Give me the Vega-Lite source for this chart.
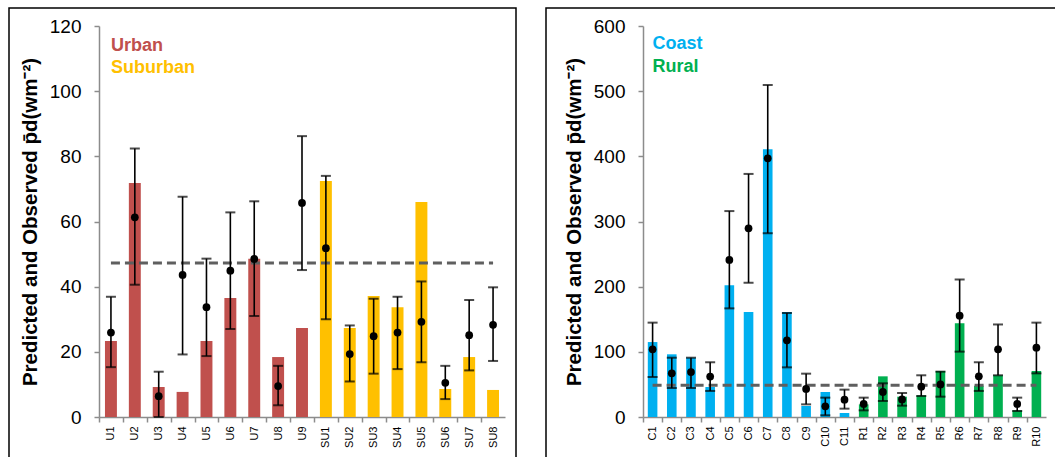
{
  "$schema": "https://vega.github.io/schema/vega-lite/v6.json",
  "padding": {"left": 8, "top": 7, "right": 0, "bottom": 0},
  "background": "white",
  "spacing": 28,
  "config": {
    "view": {"stroke": "#000000", "strokeWidth": 1.5},
    "font": "Liberation Sans",
    "axis": {"grid": false, "domainColor": "#8c8c8c", "domainWidth": 1.5, "tickColor": "#8c8c8c", "tickWidth": 1.5, "tickSize": 5, "labelColor": "#000000", "labelFont": "Liberation Sans", "titleFont": "Liberation Sans", "titleColor": "#000000"}
  },
  "resolve": {"scale": {"color": "independent", "x": "independent", "y": "independent"}},
  "hconcat": [
    {
      "width": 507,
      "height": 460,
      "data": {"values": [
        {"site": "U1", "group": "Urban", "predicted": 23.3, "observed": 25.9, "lo": 15.3, "hi": 36.9},
        {"site": "U2", "group": "Urban", "predicted": 71.8, "observed": 61.3, "lo": 40.6, "hi": 82.4},
        {"site": "U3", "group": "Urban", "predicted": 9.2, "observed": 6.4, "lo": 0, "hi": 13.9},
        {"site": "U4", "group": "Urban", "predicted": 7.7, "observed": 43.6, "lo": 19.2, "hi": 67.6},
        {"site": "U5", "group": "Urban", "predicted": 23.3, "observed": 33.7, "lo": 18.7, "hi": 48.6},
        {"site": "U6", "group": "Urban", "predicted": 36.5, "observed": 44.9, "lo": 27.0, "hi": 62.8},
        {"site": "U7", "group": "Urban", "predicted": 48.6, "observed": 48.5, "lo": 31.0, "hi": 66.2},
        {"site": "U8", "group": "Urban", "predicted": 18.4, "observed": 9.5, "lo": 3.6, "hi": 15.7},
        {"site": "U9", "group": "Urban", "predicted": 27.3, "observed": 65.7, "lo": 45.1, "hi": 86.2},
        {"site": "SU1", "group": "Suburban", "predicted": 72.4, "observed": 51.8, "lo": 30.0, "hi": 74.0},
        {"site": "SU2", "group": "Suburban", "predicted": 27.3, "observed": 19.3, "lo": 10.9, "hi": 28.1},
        {"site": "SU3", "group": "Suburban", "predicted": 37.1, "observed": 24.8, "lo": 13.3, "hi": 36.3},
        {"site": "SU4", "group": "Suburban", "predicted": 33.7, "observed": 25.9, "lo": 14.7, "hi": 36.9},
        {"site": "SU5", "group": "Suburban", "predicted": 66.0, "observed": 29.2, "lo": 16.8, "hi": 41.6},
        {"site": "SU6", "group": "Suburban", "predicted": 8.6, "observed": 10.5, "lo": 5.5, "hi": 15.7},
        {"site": "SU7", "group": "Suburban", "predicted": 18.4, "observed": 25.1, "lo": 14.3, "hi": 35.9},
        {"site": "SU8", "group": "Suburban", "predicted": 8.3, "observed": 28.3, "lo": 17.2, "hi": 39.8}
      ]},
      "layer": [
        {
          "mark": {"type": "bar"},
          "encoding": {
            "x": {"field": "site", "type": "nominal", "sort": null,
              "scale": {"domain": ["U1","U2","U3","U4","U5","U6","U7","U8","U9","SU1","SU2","SU3","SU4","SU5","SU6","SU7","SU8"], "range": [90, 496], "paddingInner": 0.5, "paddingOuter": 0.25},
              "axis": {"title": null, "offset": -51, "labelAngle": -90, "labelFontSize": 11, "labelPadding": 4, "tickOffset": -11.94, "labelOffset": 11.94}},
            "y": {"field": "predicted", "type": "quantitative",
              "scale": {"domain": [0, 120], "range": [409, 18], "nice": false},
              "axis": {"title": "Predicted and Observed p\u0304d(wm\u207b\u00b2)", "offset": -90, "values": [0,20,40,60,80,100,120], "labelFontSize": 19, "labelPadding": 13, "titleFontSize": 20.5, "titleFontWeight": "bold", "titlePadding": 9}},
            "color": {"field": "group", "type": "nominal", "scale": {"domain": ["Urban", "Suburban"], "range": ["#C0504D", "#FFC000"]}, "legend": null}
          }
        },
        {
          "data": {"values": [{"site": "U1", "mean": 47.3}, {"site": "SU8", "mean": 47.3}]},
          "mark": {"type": "line", "strokeDash": [9, 5], "strokeWidth": 3, "color": "#5f5f5f"},
          "encoding": {
            "x": {"field": "site", "type": "nominal", "sort": null},
            "y": {"field": "mean", "type": "quantitative"}
          }
        },
        {
          "mark": {"type": "rule", "color": "#000000", "strokeWidth": 1.6},
          "encoding": {
            "x": {"field": "site", "type": "nominal", "sort": null},
            "y": {"field": "lo", "type": "quantitative"},
            "y2": {"field": "hi"}
          }
        },
        {
          "mark": {"type": "tick", "color": "#000000", "size": 10, "thickness": 2},
          "encoding": {
            "x": {"field": "site", "type": "nominal", "sort": null},
            "y": {"field": "lo", "type": "quantitative"}
          }
        },
        {
          "mark": {"type": "tick", "color": "#000000", "size": 10, "thickness": 2},
          "encoding": {
            "x": {"field": "site", "type": "nominal", "sort": null},
            "y": {"field": "hi", "type": "quantitative"}
          }
        },
        {
          "mark": {"type": "point", "filled": true, "color": "#000000", "size": 60, "opacity": 1},
          "encoding": {
            "x": {"field": "site", "type": "nominal", "sort": null},
            "y": {"field": "observed", "type": "quantitative"}
          }
        },
        {
          "data": {"values": [{"site": "U1", "label": "Urban", "ypos": 113.9, "group": "Urban"}, {"site": "U1", "label": "Suburban", "ypos": 107.2, "group": "Suburban"}]},
          "mark": {"type": "text", "align": "left", "baseline": "middle", "fontSize": 18, "fontWeight": "bold", "font": "Liberation Sans"},
          "encoding": {
            "x": {"field": "site", "type": "nominal", "sort": null},
            "y": {"field": "ypos", "type": "quantitative"},
            "text": {"field": "label"},
            "color": {"field": "group", "type": "nominal", "legend": null}
          }
        }
      ]
    },
    {
      "width": 515,
      "height": 460,
      "data": {"values": [
        {"site": "C1", "group": "Coast", "predicted": 115, "observed": 103.8, "lo": 61.4, "hi": 144.8},
        {"site": "C2", "group": "Coast", "predicted": 96.2, "observed": 67, "lo": 44.5, "hi": 91},
        {"site": "C3", "group": "Coast", "predicted": 91, "observed": 69, "lo": 44.5, "hi": 91},
        {"site": "C4", "group": "Coast", "predicted": 46, "observed": 62, "lo": 40, "hi": 84},
        {"site": "C5", "group": "Coast", "predicted": 202, "observed": 241, "lo": 166.7, "hi": 316},
        {"site": "C6", "group": "Coast", "predicted": 161, "observed": 289.5, "lo": 206, "hi": 373},
        {"site": "C7", "group": "Coast", "predicted": 411, "observed": 397, "lo": 282, "hi": 509.5},
        {"site": "C8", "group": "Coast", "predicted": 161, "observed": 117.6, "lo": 76.2, "hi": 159.6},
        {"site": "C9", "group": "Coast", "predicted": 16.9, "observed": 43, "lo": 19.4, "hi": 66.5},
        {"site": "C10", "group": "Coast", "predicted": 38.4, "observed": 16.4, "lo": 2.6, "hi": 29.7},
        {"site": "C11", "group": "Coast", "predicted": 6.1, "observed": 26.6, "lo": 12.8, "hi": 42},
        {"site": "R1", "group": "Rural", "predicted": 19.4, "observed": 20, "lo": 10.2, "hi": 29.7},
        {"site": "R2", "group": "Rural", "predicted": 62.4, "observed": 38.4, "lo": 24.6, "hi": 51.7},
        {"site": "R3", "group": "Rural", "predicted": 31.2, "observed": 27, "lo": 17.4, "hi": 36.8},
        {"site": "R4", "group": "Rural", "predicted": 33.2, "observed": 46.5, "lo": 32.2, "hi": 64},
        {"site": "R5", "group": "Rural", "predicted": 70.6, "observed": 50, "lo": 31.2, "hi": 69.6},
        {"site": "R6", "group": "Rural", "predicted": 143.7, "observed": 155.5, "lo": 100.3, "hi": 211},
        {"site": "R7", "group": "Rural", "predicted": 48, "observed": 62.4, "lo": 40, "hi": 84},
        {"site": "R8", "group": "Rural", "predicted": 64, "observed": 103.8, "lo": 64, "hi": 142},
        {"site": "R9", "group": "Rural", "predicted": 10.2, "observed": 20, "lo": 9.2, "hi": 29.7},
        {"site": "R10", "group": "Rural", "predicted": 70.6, "observed": 106.4, "lo": 67, "hi": 144.8}
      ]},
      "layer": [
        {
          "mark": {"type": "bar"},
          "encoding": {
            "x": {"field": "site", "type": "nominal", "sort": null,
              "scale": {"domain": ["C1","C2","C3","C4","C5","C6","C7","C8","C9","C10","C11","R1","R2","R3","R4","R5","R6","R7","R8","R9","R10"], "range": [97, 500], "paddingInner": 0.5, "paddingOuter": 0.25},
              "axis": {"title": null, "offset": -51, "labelAngle": -90, "labelFontSize": 11, "labelPadding": 4, "tickOffset": -9.6, "labelOffset": 9.6}},
            "y": {"field": "predicted", "type": "quantitative",
              "scale": {"domain": [0, 600], "range": [409, 18], "nice": false},
              "axis": {"title": "Predicted and Observed p\u0304d(wm\u207b\u00b2)", "offset": -97, "values": [0,100,200,300,400,500,600], "labelFontSize": 19, "labelPadding": 13, "titleFontSize": 20.5, "titleFontWeight": "bold", "titlePadding": 9}},
            "color": {"field": "group", "type": "nominal", "scale": {"domain": ["Coast", "Rural"], "range": ["#00B0F0", "#00B050"]}, "legend": null}
          }
        },
        {
          "data": {"values": [{"site": "C1", "mean": 48.6}, {"site": "R10", "mean": 48.6}]},
          "mark": {"type": "line", "strokeDash": [9, 5], "strokeWidth": 3, "color": "#5f5f5f"},
          "encoding": {
            "x": {"field": "site", "type": "nominal", "sort": null},
            "y": {"field": "mean", "type": "quantitative"}
          }
        },
        {
          "mark": {"type": "rule", "color": "#000000", "strokeWidth": 1.6},
          "encoding": {
            "x": {"field": "site", "type": "nominal", "sort": null},
            "y": {"field": "lo", "type": "quantitative"},
            "y2": {"field": "hi"}
          }
        },
        {
          "mark": {"type": "tick", "color": "#000000", "size": 10, "thickness": 2},
          "encoding": {
            "x": {"field": "site", "type": "nominal", "sort": null},
            "y": {"field": "lo", "type": "quantitative"}
          }
        },
        {
          "mark": {"type": "tick", "color": "#000000", "size": 10, "thickness": 2},
          "encoding": {
            "x": {"field": "site", "type": "nominal", "sort": null},
            "y": {"field": "hi", "type": "quantitative"}
          }
        },
        {
          "mark": {"type": "point", "filled": true, "color": "#000000", "size": 60, "opacity": 1},
          "encoding": {
            "x": {"field": "site", "type": "nominal", "sort": null},
            "y": {"field": "observed", "type": "quantitative"}
          }
        },
        {
          "data": {"values": [{"site": "C1", "label": "Coast", "ypos": 572, "group": "Coast"}, {"site": "C1", "label": "Rural", "ypos": 537.5, "group": "Rural"}]},
          "mark": {"type": "text", "align": "left", "baseline": "middle", "fontSize": 18, "fontWeight": "bold", "font": "Liberation Sans"},
          "encoding": {
            "x": {"field": "site", "type": "nominal", "sort": null},
            "y": {"field": "ypos", "type": "quantitative"},
            "text": {"field": "label"},
            "color": {"field": "group", "type": "nominal", "legend": null}
          }
        }
      ]
    }
  ]
}
